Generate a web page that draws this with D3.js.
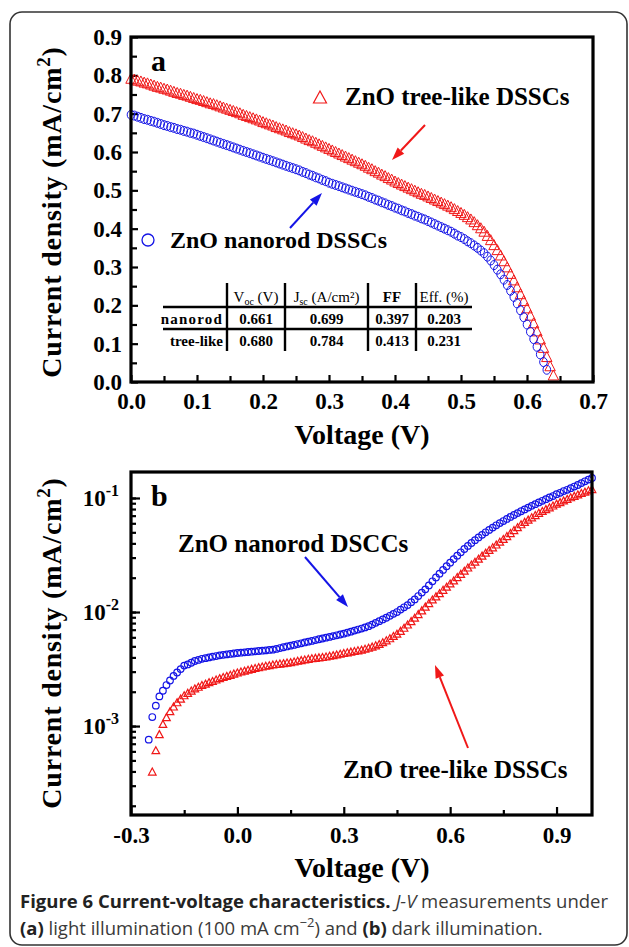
<!DOCTYPE html>
<html>
<head>
<meta charset="utf-8">
<script src="https://cdn.jsdelivr.net/npm/d3@7"></script>
<style>
  body { margin: 0; background: #fff; }
  svg { display: block; }
</style>
</head>
<body>
<div id="chart"></div>
<script>
// ---- data ----
// (a) J-V under light, voltage sweep in V
const voltageA = [0.000,0.005,0.010,0.015,0.020,0.025,0.030,0.035,0.040,0.045,
  0.050,0.055,0.060,0.065,0.070,0.075,0.080,0.085,0.090,0.095,
  0.100,0.105,0.110,0.115,0.120,0.125,0.130,0.135,0.140,0.145,
  0.150,0.155,0.160,0.165,0.170,0.175,0.180,0.185,0.190,0.195,
  0.200,0.205,0.210,0.215,0.220,0.225,0.230,0.235,0.240,0.245,
  0.250,0.255,0.260,0.265,0.270,0.275,0.280,0.285,0.290,0.295,
  0.300,0.305,0.310,0.315,0.320,0.325,0.330,0.335,0.340,0.345,
  0.350,0.355,0.360,0.365,0.370,0.375,0.380,0.385,0.390,0.395,
  0.400,0.405,0.410,0.415,0.420,0.425,0.430,0.435,0.440,0.445,
  0.450,0.455,0.460,0.465,0.470,0.475,0.480,0.485,0.490,0.495,
  0.500,0.505,0.510,0.515,0.520,0.525,0.530,0.535,0.540,0.545,
  0.550,0.555,0.560,0.565,0.570,0.575,0.580,0.585,0.590,0.595,
  0.600,0.605,0.610,0.615,0.620,0.625,0.630,0.635,0.640];
const treeLikeA = [0.788,0.786,0.783,0.781,0.778,0.776,0.773,0.770,0.767,0.765,
  0.762,0.760,0.757,0.754,0.751,0.749,0.746,0.744,0.741,0.738,
  0.735,0.733,0.730,0.727,0.724,0.722,0.719,0.716,0.713,0.710,
  0.707,0.704,0.701,0.698,0.694,0.691,0.688,0.685,0.682,0.679,
  0.675,0.672,0.669,0.666,0.662,0.659,0.656,0.653,0.649,0.646,
  0.643,0.640,0.636,0.632,0.628,0.625,0.621,0.617,0.613,0.609,
  0.605,0.601,0.597,0.593,0.589,0.585,0.581,0.577,0.573,0.569,
  0.565,0.561,0.556,0.552,0.547,0.543,0.538,0.534,0.529,0.525,
  0.520,0.516,0.512,0.508,0.504,0.500,0.496,0.492,0.488,0.485,
  0.481,0.477,0.473,0.469,0.465,0.461,0.457,0.453,0.448,0.443,
  0.438,0.433,0.427,0.421,0.414,0.406,0.398,0.389,0.378,0.367,
  0.354,0.341,0.327,0.312,0.296,0.279,0.262,0.244,0.226,0.208,
  0.189,0.170,0.150,0.129,0.108,0.086,0.062,0.038,0.014];
const nanorodA = [0.697,0.695,0.692,0.689,0.686,0.684,0.681,0.679,0.676,0.673,
  0.670,0.668,0.665,0.663,0.660,0.658,0.655,0.653,0.650,0.648,
  0.645,0.642,0.639,0.636,0.633,0.630,0.627,0.624,0.621,0.618,
  0.615,0.612,0.609,0.606,0.603,0.600,0.597,0.594,0.591,0.588,
  0.585,0.582,0.579,0.576,0.573,0.570,0.567,0.564,0.561,0.558,
  0.555,0.552,0.548,0.545,0.541,0.538,0.534,0.531,0.527,0.524,
  0.520,0.517,0.514,0.511,0.508,0.505,0.502,0.499,0.496,0.493,
  0.490,0.487,0.483,0.480,0.476,0.473,0.469,0.466,0.462,0.459,
  0.455,0.452,0.448,0.445,0.441,0.438,0.434,0.431,0.427,0.424,
  0.420,0.416,0.412,0.408,0.404,0.400,0.396,0.392,0.387,0.382,
  0.378,0.373,0.367,0.362,0.356,0.350,0.343,0.336,0.327,0.317,
  0.305,0.293,0.281,0.267,0.253,0.238,0.222,0.205,0.187,0.169,
  0.150,0.131,0.112,0.092,0.072,0.052,0.032];

// (b) J-V in the dark
const voltageB = [-0.25,-0.24,-0.23,-0.22,-0.21,-0.20,-0.19,-0.18,-0.17,-0.16,
  -0.15,-0.14,-0.13,-0.12,-0.11,-0.10,-0.09,-0.08,-0.07,-0.06,
  -0.05,-0.04,-0.03,-0.02,-0.01,0.00,0.01,0.02,0.03,0.04,
  0.05,0.06,0.07,0.08,0.09,0.10,0.11,0.12,0.13,0.14,
  0.15,0.16,0.17,0.18,0.19,0.20,0.21,0.22,0.23,0.24,
  0.25,0.26,0.27,0.28,0.29,0.30,0.31,0.32,0.33,0.34,
  0.35,0.36,0.37,0.38,0.39,0.40,0.41,0.42,0.43,0.44,
  0.45,0.46,0.47,0.48,0.49,0.50,0.51,0.52,0.53,0.54,
  0.55,0.56,0.57,0.58,0.59,0.60,0.61,0.62,0.63,0.64,
  0.65,0.66,0.67,0.68,0.69,0.70,0.71,0.72,0.73,0.74,
  0.75,0.76,0.77,0.78,0.79,0.80,0.81,0.82,0.83,0.84,
  0.85,0.86,0.87,0.88,0.89,0.90,0.91,0.92,0.93,0.94,
  0.95,0.96,0.97,0.98,0.99,1.00];
const nanorodB = [7.6e-4,1.20e-3,1.51e-3,1.82e-3,2.04e-3,2.29e-3,2.51e-3,2.75e-3,2.95e-3,3.16e-3,
  3.39e-3,3.47e-3,3.59e-3,3.72e-3,3.80e-3,3.89e-3,3.94e-3,4.00e-3,4.06e-3,4.11e-3,
  4.17e-3,4.21e-3,4.25e-3,4.29e-3,4.33e-3,4.37e-3,4.40e-3,4.43e-3,4.46e-3,4.49e-3,
  4.52e-3,4.55e-3,4.58e-3,4.61e-3,4.65e-3,4.68e-3,4.75e-3,4.83e-3,4.91e-3,4.99e-3,
  5.07e-3,5.15e-3,5.24e-3,5.32e-3,5.41e-3,5.50e-3,5.58e-3,5.68e-3,5.77e-3,5.86e-3,
  5.96e-3,6.05e-3,6.15e-3,6.25e-3,6.35e-3,6.46e-3,6.59e-3,6.73e-3,6.87e-3,7.02e-3,
  7.16e-3,7.33e-3,7.52e-3,7.76e-3,8.04e-3,8.32e-3,8.61e-3,8.91e-3,9.27e-3,9.64e-3,
  1.00e-2,1.05e-2,1.10e-2,1.15e-2,1.22e-2,1.29e-2,1.38e-2,1.48e-2,1.58e-2,1.71e-2,
  1.86e-2,2.01e-2,2.17e-2,2.34e-2,2.52e-2,2.71e-2,2.91e-2,3.12e-2,3.34e-2,3.57e-2,
  3.80e-2,4.03e-2,4.27e-2,4.51e-2,4.75e-2,5.00e-2,5.25e-2,5.50e-2,5.76e-2,6.02e-2,
  6.28e-2,6.55e-2,6.82e-2,7.09e-2,7.37e-2,7.65e-2,7.94e-2,8.23e-2,8.53e-2,8.83e-2,
  9.14e-2,9.45e-2,9.77e-2,1.01e-1,1.04e-1,1.08e-1,1.11e-1,1.15e-1,1.18e-1,1.22e-1,
  1.26e-1,1.30e-1,1.35e-1,1.40e-1,1.45e-1,1.50e-1];
const treeLikeB = [null,3.9e-4,6.0e-4,8.3e-4,1.02e-3,1.17e-3,1.32e-3,1.45e-3,1.58e-3,1.70e-3,
  1.82e-3,1.91e-3,2.00e-3,2.09e-3,2.16e-3,2.24e-3,2.30e-3,2.37e-3,2.43e-3,2.50e-3,
  2.57e-3,2.63e-3,2.69e-3,2.75e-3,2.82e-3,2.88e-3,2.94e-3,2.99e-3,3.05e-3,3.10e-3,
  3.16e-3,3.21e-3,3.25e-3,3.30e-3,3.34e-3,3.39e-3,3.42e-3,3.45e-3,3.48e-3,3.52e-3,
  3.55e-3,3.60e-3,3.65e-3,3.70e-3,3.75e-3,3.80e-3,3.84e-3,3.87e-3,3.91e-3,3.94e-3,
  3.98e-3,4.04e-3,4.09e-3,4.15e-3,4.21e-3,4.27e-3,4.33e-3,4.39e-3,4.45e-3,4.51e-3,
  4.57e-3,4.66e-3,4.75e-3,4.86e-3,4.99e-3,5.13e-3,5.31e-3,5.52e-3,5.75e-3,6.03e-3,
  6.31e-3,6.68e-3,7.11e-3,7.59e-3,8.13e-3,8.71e-3,9.38e-3,1.01e-2,1.09e-2,1.17e-2,
  1.26e-2,1.34e-2,1.43e-2,1.53e-2,1.63e-2,1.74e-2,1.85e-2,1.98e-2,2.11e-2,2.25e-2,
  2.40e-2,2.55e-2,2.70e-2,2.87e-2,3.05e-2,3.24e-2,3.42e-2,3.61e-2,3.82e-2,4.04e-2,
  4.27e-2,4.53e-2,4.81e-2,5.11e-2,5.42e-2,5.75e-2,6.03e-2,6.31e-2,6.61e-2,6.92e-2,
  7.24e-2,7.52e-2,7.80e-2,8.09e-2,8.39e-2,8.71e-2,8.99e-2,9.29e-2,9.59e-2,9.91e-2,
  1.02e-1,1.05e-1,1.08e-1,1.11e-1,1.14e-1,1.17e-1];

// ticks
const xTicksA = [0.0,0.1,0.2,0.3,0.4,0.5,0.6,0.7];
const yTicksA = [0.0,0.1,0.2,0.3,0.4,0.5,0.6,0.7,0.8,0.9];
const xTicksB = [-0.3,0.0,0.3,0.6,0.9];
const yDecadesB = [1e-3,1e-2,1e-1];

// table inset of panel (a)
const tableHeader = ["", "V_oc (V)", "J_sc (A/cm²)", "FF", "Eff. (%)"];
const tableRows = [
  ["nanorod", "0.661", "0.699", "0.397", "0.203"],
  ["tree-like", "0.680", "0.784", "0.413", "0.231"]
];

// ---- drawing ----
const W = 629, H = 947;
const RED = "#f01818", BLUE = "#1414e6";
const SERIF = "'Liberation Serif','Times New Roman',serif";
const fmt = d => d3.format(".1f")(d).replace("\u2212", "-");

const svg = d3.select("#chart").append("svg")
  .attr("width", W).attr("height", H);
svg.append("rect").attr("width", W).attr("height", H).attr("fill", "#fff");

// outer rounded frame
svg.append("rect")
  .attr("x", 10).attr("y", 12).attr("width", 617).attr("height", 933)
  .attr("rx", 12).attr("fill", "none").attr("stroke", "#333").attr("stroke-width", 1.6);

const tri = (w, h) => `M0,${-h * 2 / 3}L${w},${h / 3}L${-w},${h / 3}Z`;

function styleAxis(g, size) {
  g.select(".domain").remove();
  g.selectAll(".tick line").attr("stroke", "#000").attr("stroke-width", 2.2);
  g.selectAll("text").attr("font-family", SERIF).attr("font-weight", "bold")
    .attr("font-size", size).attr("fill", "#000");
}

function yTitle(x, cy) {
  const t = svg.append("text")
    .attr("transform", `translate(${x},${cy}) rotate(-90)`)
    .attr("text-anchor", "middle")
    .attr("font-family", SERIF).attr("font-weight", "bold").attr("font-size", 28)
    .attr("letter-spacing", 0.8);
  t.append("tspan").text("Current density (mA/cm");
  t.append("tspan").attr("dy", -11).attr("font-size", 19).text("2");
  t.append("tspan").attr("dy", 11).text(")");
}

function xTitle(cx, y) {
  svg.append("text").attr("x", cx).attr("y", y).attr("text-anchor", "middle")
    .attr("font-family", SERIF).attr("font-weight", "bold").attr("font-size", 28)
    .text("Voltage (V)");
}

function label(x, y, txt, size) {
  svg.append("text").attr("x", x).attr("y", y)
    .attr("font-family", SERIF).attr("font-weight", "bold").attr("font-size", size)
    .attr("fill", "#000").text(txt);
}

function arrow(x1, y1, x2, y2, color) {
  const a = Math.atan2(y2 - y1, x2 - x1), L = 13, Wd = 4.5;
  const bx = x2 - L * Math.cos(a), by = y2 - L * Math.sin(a);
  svg.append("line").attr("x1", x1).attr("y1", y1).attr("x2", bx).attr("y2", by)
    .attr("stroke", color).attr("stroke-width", 2);
  svg.append("path")
    .attr("d", `M${x2},${y2}L${bx - Wd * Math.sin(a)},${by + Wd * Math.cos(a)}L${bx + Wd * Math.sin(a)},${by - Wd * Math.cos(a)}Z`)
    .attr("fill", color);
}

// ===== panel (a) =====
const xA = d3.scaleLinear().domain([0, 0.7]).range([131, 593]);
const yA = d3.scaleLinear().domain([0, 0.9]).range([382, 37]);

const minorA = [0.05, 0.15, 0.25, 0.35, 0.45, 0.55, 0.65];
svg.append("g").attr("transform", "translate(0,382)")
  .call(d3.axisBottom(xA).tickValues(minorA).tickSize(-6).tickFormat(""))
  .call(g => styleAxis(g, 22));
svg.append("g").attr("transform", "translate(0,382)")
  .call(d3.axisBottom(xA).tickValues(xTicksA).tickSize(-7).tickPadding(11).tickFormat(fmt))
  .call(g => styleAxis(g, 23));
const minorYA = [0.05, 0.15, 0.25, 0.35, 0.45, 0.55, 0.65, 0.75, 0.85];
svg.append("g").attr("transform", "translate(131,0)")
  .call(d3.axisLeft(yA).tickValues(minorYA).tickSize(-6).tickFormat(""))
  .call(g => styleAxis(g, 22));
svg.append("g").attr("transform", "translate(131,0)")
  .call(d3.axisLeft(yA).tickValues(yTicksA).tickSize(-7).tickPadding(9).tickFormat(fmt))
  .call(g => styleAxis(g, 23));

// series a
const gA = svg.append("g");
gA.selectAll("path.tri").data(treeLikeA).join("path")
  .attr("transform", (d, i) => `translate(${xA(voltageA[i])},${yA(d)})`)
  .attr("d", tri(5.2, 10)).attr("fill", "none").attr("stroke", RED).attr("stroke-width", 1);
gA.selectAll("ellipse").data(nanorodA).join("ellipse")
  .attr("cx", (d, i) => xA(voltageA[i])).attr("cy", d => yA(d)).attr("rx", 3.8).attr("ry", 4.5)
  .attr("fill", "none").attr("stroke", BLUE).attr("stroke-width", 1);

svg.append("rect").attr("x", 131).attr("y", 37).attr("width", 462).attr("height", 345)
  .attr("fill", "none").attr("stroke", "#000").attr("stroke-width", 3.2);

label(151, 71, "a", 30);
yTitle(61, 212);
xTitle(362, 444);

// legend + arrows (a)
svg.append("path").attr("transform", "translate(320,99)").attr("d", tri(6.5, 12))
  .attr("fill", "none").attr("stroke", RED).attr("stroke-width", 1.2);
label(345, 105, "ZnO tree-like DSSCs", 25);
arrow(425, 125, 392, 160, RED);
svg.append("circle").attr("cx", 148).attr("cy", 240).attr("r", 6)
  .attr("fill", "none").attr("stroke", BLUE).attr("stroke-width", 1.3);
label(170, 248, "ZnO nanorod DSSCs", 24);
arrow(290, 228, 322, 193, BLUE);

// table inset
const colX = [163, 227, 285, 368, 416, 472];
const rowY = [283, 307, 329, 351];
const tg = svg.append("g").attr("font-family", SERIF).attr("font-size", 15).attr("fill", "#000");
tg.selectAll("line.h").data([rowY[1], rowY[2]]).join("line")
  .attr("x1", colX[0]).attr("x2", colX[5]).attr("y1", d => d).attr("y2", d => d)
  .attr("stroke", "#000").attr("stroke-width", 2.4);
tg.selectAll("line.v").data(colX.slice(1, 5)).join("line")
  .attr("x1", d => d).attr("x2", d => d).attr("y1", rowY[0]).attr("y2", rowY[3])
  .attr("stroke", "#000").attr("stroke-width", 2.4);
tableHeader.forEach((h, j) => {
  if (!h) return;
  const cx = (colX[j] + colX[j + 1]) / 2;
  const t = tg.append("text").attr("x", cx).attr("y", rowY[1] - 5).attr("text-anchor", "middle")
    .attr("font-weight", j === 3 ? "bold" : "normal");
  const m = h.match(/^(\w)_(\w+)(.*)$/);
  if (m) {
    t.append("tspan").text(m[1]);
    t.append("tspan").attr("font-size", 10).attr("dy", 3).text(m[2]);
    t.append("tspan").attr("dy", -3).text(m[3]);
  } else t.text(h);
});
tableRows.forEach((r, i) => {
  r.forEach((c, j) => {
    const t = tg.append("text").attr("y", rowY[i + 1] + 17).attr("font-weight", "bold");
    if (j === 0) t.attr("x", colX[1] - 4).attr("text-anchor", "end")
      .attr("letter-spacing", i === 0 ? 1.2 : 0).text(c);
    else t.attr("x", (colX[j] + colX[j + 1]) / 2).attr("text-anchor", "middle").text(c);
  });
});

// ===== panel (b) =====
const xB = d3.scaleLinear().domain([-0.3, 1.0]).range([131, 592]);
const yB = d3.scaleLog().domain([1.66e-4, 0.169]).range([815, 472]);

svg.append("g").attr("transform", "translate(0,815)")
  .call(d3.axisBottom(xB).tickValues([-0.15, 0.15, 0.45, 0.75]).tickSize(-5).tickFormat(""))
  .call(g => styleAxis(g, 22));
svg.append("g").attr("transform", "translate(0,815)")
  .call(d3.axisBottom(xB).tickValues(xTicksB).tickSize(-8).tickPadding(12).tickFormat(fmt))
  .call(g => styleAxis(g, 23));

const minorB = yB.ticks().filter(v => v > yB.domain()[0] && v < yB.domain()[1]);
svg.append("g").attr("transform", "translate(131,0)")
  .call(d3.axisLeft(yB).tickValues(minorB).tickSize(-5).tickFormat(""))
  .call(g => styleAxis(g, 22));
const yAxB = svg.append("g").attr("transform", "translate(131,0)")
  .call(d3.axisLeft(yB).tickValues(yDecadesB).tickSize(-9).tickPadding(10).tickFormat(""))
  .call(g => styleAxis(g, 23));
yAxB.selectAll(".tick").each(function (d) {
  const t = d3.select(this).append("text").attr("x", -12).attr("dy", "0.32em")
    .attr("text-anchor", "end").attr("font-family", SERIF).attr("font-weight", "bold")
    .attr("font-size", 23).attr("fill", "#000");
  t.append("tspan").text("10");
  t.append("tspan").attr("dy", -10).attr("font-size", 16).text(String(Math.round(Math.log10(d))));
});

const gB = svg.append("g");
gB.selectAll("path.tri").data(treeLikeB.map((d, i) => [voltageB[i], d]).filter(p => p[1] != null)).join("path")
  .attr("transform", p => `translate(${xB(p[0])},${yB(p[1])})`)
  .attr("d", tri(3.8, 7)).attr("fill", "none").attr("stroke", RED).attr("stroke-width", 1.2);
gB.selectAll("circle").data(nanorodB).join("circle")
  .attr("cx", (d, i) => xB(voltageB[i])).attr("cy", d => yB(d)).attr("r", 3.3)
  .attr("fill", "none").attr("stroke", BLUE).attr("stroke-width", 1.2);

svg.append("rect").attr("x", 131).attr("y", 472).attr("width", 461).attr("height", 343)
  .attr("fill", "none").attr("stroke", "#000").attr("stroke-width", 3.2);

label(151, 506, "b", 30);
yTitle(61, 643);
xTitle(362, 877);

label(178, 552, "ZnO nanorod DSCCs", 25);
arrow(305, 557, 348, 607, BLUE);
label(343, 778, "ZnO tree-like DSSCs", 25);
arrow(468, 748, 435, 665, RED);

// ===== caption =====
const cap = svg.append("g").attr("font-family", "'Open Sans','Noto Sans',sans-serif").attr("font-size", 18.5);
const l1 = cap.append("text").attr("x", 20).attr("y", 908).attr("fill", "#3a3a3a");
l1.append("tspan").attr("font-weight", "bold").attr("fill", "#222").text("Figure 6 Current-voltage characteristics. ");
l1.append("tspan").attr("font-style", "italic").text("J-V");
l1.append("tspan").text(" measurements under");
const l2 = cap.append("text").attr("x", 20).attr("y", 935).attr("fill", "#3a3a3a");
l2.append("tspan").attr("font-weight", "bold").attr("fill", "#222").text("(a)");
l2.append("tspan").text(" light illumination (100 mA cm");
l2.append("tspan").attr("dy", -8).attr("font-size", 13).text("\u22122");
l2.append("tspan").attr("dy", 8).text(") and ");
l2.append("tspan").attr("font-weight", "bold").attr("fill", "#222").text("(b)");
l2.append("tspan").text(" dark illumination.");
</script>
</body>
</html>
